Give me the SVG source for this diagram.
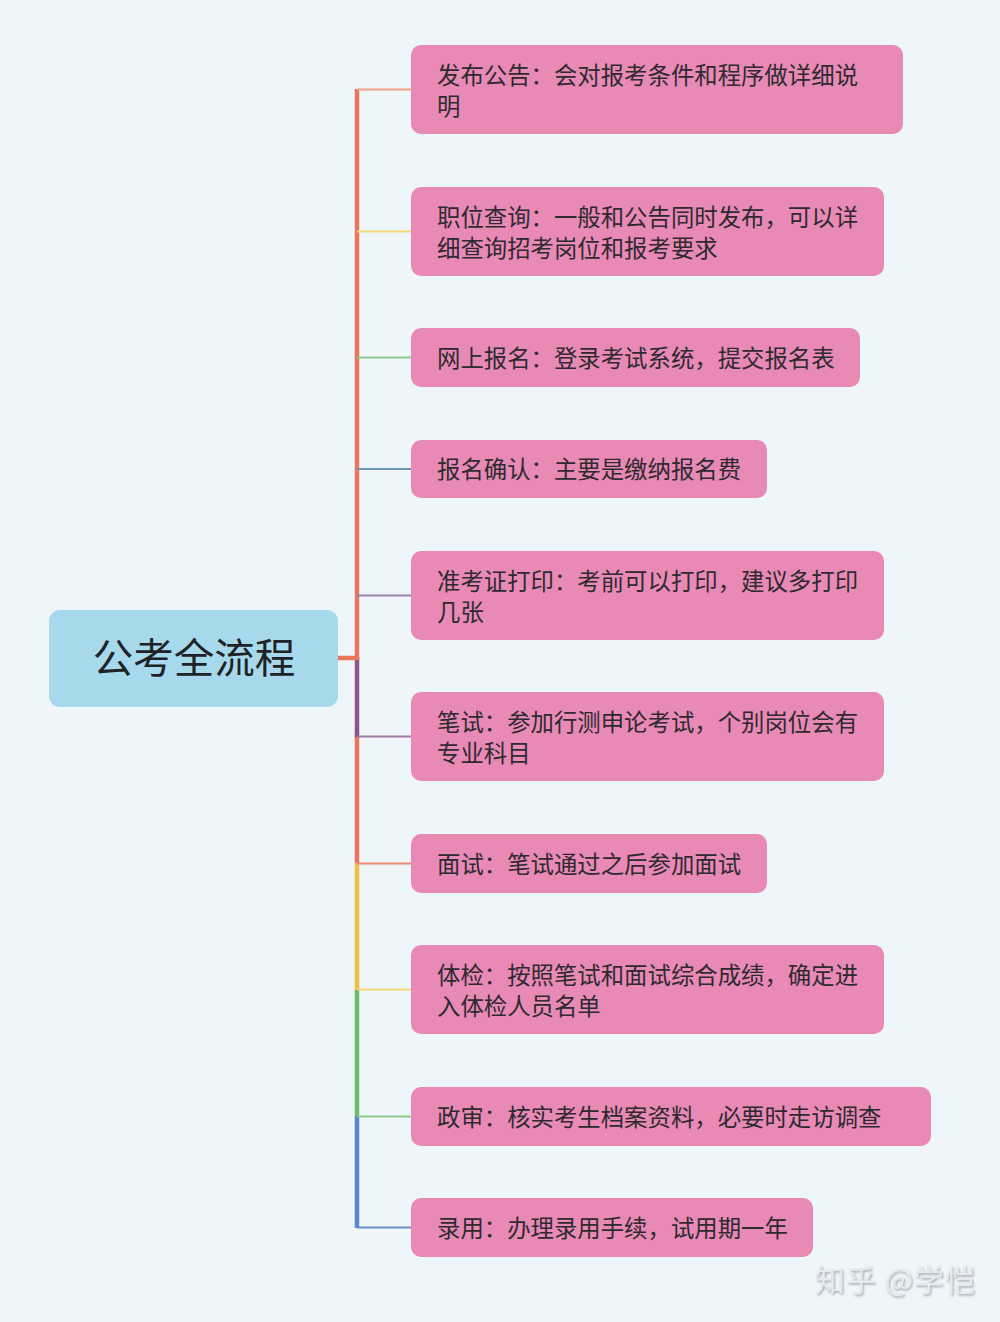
<svg xmlns="http://www.w3.org/2000/svg" width="1000" height="1322" viewBox="0 0 1000 1322">
<defs>
<style>
.box{fill:#e889b6;}
.t{font-family:"Noto Sans CJK SC","Noto Sans",sans-serif;font-size:23.4px;fill:#2e2a2e;}
.root{fill:#a7d9ec;}
.rt{font-family:"Noto Sans CJK SC","Noto Sans",sans-serif;font-size:40.5px;fill:#1e2226;text-anchor:middle;}
.br{stroke-width:2;fill:none;}
.tr{stroke-width:4.5;fill:none;}
.wm{font-family:"Noto Sans CJK SC","Noto Sans",sans-serif;font-size:30px;letter-spacing:1px;fill:#e6eaee;}
</style>
<filter id="sh" x="-10%" y="-30%" width="120%" height="160%">
<feDropShadow dx="1" dy="1.5" stdDeviation="0.8" flood-color="#8a9096" flood-opacity="0.8"/>
</filter>
</defs>
<rect width="1000" height="1322" fill="#eef6fa"/>
<g id="connectors">
<line class="tr" x1="357" y1="89" x2="357" y2="660" stroke="#e8765a"/>
<line class="tr" x1="357" y1="658" x2="357" y2="738" stroke="#8e5486"/>
<line class="tr" x1="357" y1="737" x2="357" y2="864" stroke="#e8765a"/>
<line class="tr" x1="357" y1="863" x2="357" y2="991" stroke="#eec04a"/>
<line class="tr" x1="357" y1="990" x2="357" y2="1117" stroke="#6cbb68"/>
<line class="tr" x1="357" y1="1116" x2="357" y2="1228" stroke="#5a88cc"/>
<line class="tr" x1="336" y1="658" x2="359" y2="658" stroke="#e8765a"/>
<line class="br" x1="357" y1="89.5" x2="412" y2="89.5" stroke="#f0a283"/>
<line class="br" x1="357" y1="231.5" x2="412" y2="231.5" stroke="#f4d776"/>
<line class="br" x1="357" y1="357.5" x2="412" y2="357.5" stroke="#8cc98a"/>
<line class="br" x1="357" y1="469" x2="412" y2="469" stroke="#6a96b2"/>
<line class="br" x1="357" y1="595.5" x2="412" y2="595.5" stroke="#9a82b0"/>
<line class="br" x1="357" y1="736.5" x2="412" y2="736.5" stroke="#a47aa4"/>
<line class="br" x1="357" y1="863.5" x2="412" y2="863.5" stroke="#ea8870"/>
<line class="br" x1="357" y1="989.5" x2="412" y2="989.5" stroke="#f4d776"/>
<line class="br" x1="357" y1="1116.5" x2="412" y2="1116.5" stroke="#8cc98a"/>
<line class="br" x1="357" y1="1227.5" x2="412" y2="1227.5" stroke="#6a90c4"/>
</g>
<g id="root">
<rect class="root" x="49" y="610" width="289" height="97" rx="11"/>
<text class="rt" x="194" y="673">公考全流程</text>
</g>
<g id="n1">
<rect class="box" x="411" y="45" width="492" height="89" rx="10"/>
<text class="t" x="437" y="84">发布公告：会对报考条件和程序做详细说</text>
<text class="t" x="437" y="115">明</text>
</g>
<g id="n2">
<rect class="box" x="411" y="187" width="473" height="89" rx="10"/>
<text class="t" x="437" y="226">职位查询：一般和公告同时发布，可以详</text>
<text class="t" x="437" y="257">细查询招考岗位和报考要求</text>
</g>
<g id="n3">
<rect class="box" x="411" y="328" width="449" height="59" rx="10"/>
<text class="t" x="437" y="367">网上报名：登录考试系统，提交报名表</text>
</g>
<g id="n4">
<rect class="box" x="411" y="440" width="356" height="58" rx="10"/>
<text class="t" x="437" y="478">报名确认：主要是缴纳报名费</text>
</g>
<g id="n5">
<rect class="box" x="411" y="551" width="473" height="89" rx="10"/>
<text class="t" x="437" y="590">准考证打印：考前可以打印，建议多打印</text>
<text class="t" x="437" y="621">几张</text>
</g>
<g id="n6">
<rect class="box" x="411" y="692" width="473" height="89" rx="10"/>
<text class="t" x="437" y="731">笔试：参加行测申论考试，个别岗位会有</text>
<text class="t" x="437" y="762">专业科目</text>
</g>
<g id="n7">
<rect class="box" x="411" y="834" width="356" height="59" rx="10"/>
<text class="t" x="437" y="873">面试：笔试通过之后参加面试</text>
</g>
<g id="n8">
<rect class="box" x="411" y="945" width="473" height="89" rx="10"/>
<text class="t" x="437" y="984">体检：按照笔试和面试综合成绩，确定进</text>
<text class="t" x="437" y="1015">入体检人员名单</text>
</g>
<g id="n9">
<rect class="box" x="411" y="1087" width="520" height="59" rx="10"/>
<text class="t" x="437" y="1126">政审：核实考生档案资料，必要时走访调查</text>
</g>
<g id="n10">
<rect class="box" x="411" y="1198" width="402" height="59" rx="10"/>
<text class="t" x="437" y="1237">录用：办理录用手续，试用期一年</text>
</g>
<g id="watermark">
<text class="wm" x="815" y="1291" filter="url(#sh)">知乎 @学恺</text>
</g>
</svg>
